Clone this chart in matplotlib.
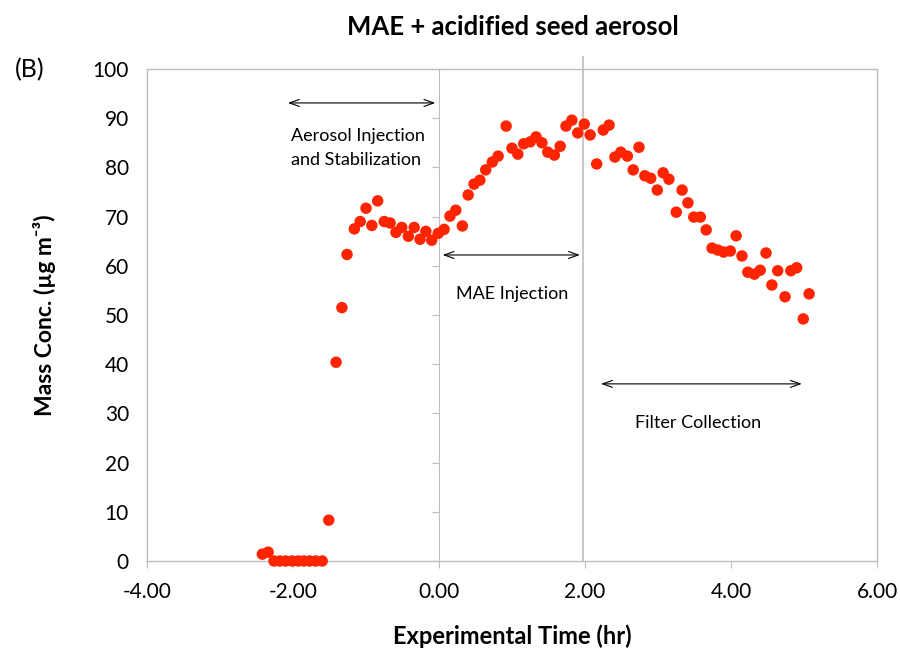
import matplotlib
matplotlib.use("Agg")
import matplotlib.pyplot as plt
from matplotlib.ticker import FixedLocator, FormatStrFormatter

plt.rcParams['font.family'] = ['Lato', 'DejaVu Sans']

time_hr = [-2.42, -2.34, -2.26, -2.18, -2.10, -2.01, -1.93, -1.85, -1.77, -1.69, -1.60,
           -1.51, -1.41, -1.33, -1.26, -1.16, -1.08, -1.00, -0.92, -0.84, -0.75, -0.67,
           -0.59, -0.51, -0.42, -0.34, -0.26, -0.18, -0.10, -0.01, 0.07, 0.15, 0.23,
           0.32, 0.40, 0.48, 0.56, 0.64, 0.73, 0.81, 0.92, 1.00, 1.08, 1.16, 1.25,
           1.33, 1.41, 1.49, 1.58, 1.66, 1.74, 1.82, 1.90, 1.99, 2.07, 2.16, 2.25,
           2.33, 2.41, 2.49, 2.58, 2.66, 2.74, 2.82, 2.90, 2.99, 3.07, 3.15, 3.25,
           3.33, 3.41, 3.49, 3.58, 3.66, 3.74, 3.82, 3.90, 3.99, 4.07, 4.15, 4.23,
           4.32, 4.40, 4.48, 4.56, 4.64, 4.74, 4.82, 4.90, 4.99, 5.07]
mass_conc = [1.4, 1.8, 0.0, 0.0, 0.0, 0.0, 0.0, 0.0, 0.0, 0.0, 0.0,
             8.3, 40.4, 51.5, 62.3, 67.5, 69.0, 71.7, 68.2, 73.2, 69.0, 68.7,
             66.8, 67.8, 66.0, 67.8, 65.4, 67.0, 65.2, 66.6, 67.4, 70.1, 71.3,
             68.1, 74.4, 76.6, 77.4, 79.5, 81.1, 82.3, 88.4, 83.9, 82.7, 84.8, 85.2,
             86.2, 85.0, 83.1, 82.5, 84.3, 88.4, 89.6, 87.0, 88.8, 86.6, 80.7, 87.6,
             88.6, 82.1, 83.1, 82.3, 79.5, 84.1, 78.3, 77.8, 75.4, 78.9, 77.6, 70.9,
             75.4, 72.8, 69.9, 69.9, 67.3, 63.6, 63.2, 62.8, 63.0, 66.1, 62.0, 58.7,
             58.3, 59.1, 62.6, 56.1, 59.0, 53.7, 59.0, 59.6, 49.2, 54.3]

x_ticks = [-4, -2, 0, 2, 4, 6]
y_ticks = [0, 10, 20, 30, 40, 50, 60, 70, 80, 90, 100]
filter_start = 1.97

phases = [
    ("Aerosol Injection\nand Stabilization", -2.07, -0.05, 93.1, -2.03, 84.0, 'left'),
    ("MAE Injection", 0.05, 1.93, 62.2, 1.0, 54.3, 'center'),
    ("Filter Collection", 2.22, 4.97, 36.0, 3.55, 28.0, 'center'),
]

gray = '#BDBDBD'
fig = plt.figure(figsize=(9, 6.51), dpi=100)
ax = fig.add_axes([147/900, 1-561/651, (877-147)/900, (561-69)/651])

ax.scatter(time_hr, mass_conc, s=68, color='#FF2400', edgecolors='none', zorder=3, clip_on=False)

ax.set_xlim(-4, 6)
ax.set_ylim(0, 100)
ax.xaxis.set_major_locator(FixedLocator(x_ticks))
ax.yaxis.set_major_locator(FixedLocator(y_ticks))
ax.xaxis.set_major_formatter(FormatStrFormatter('%.2f'))
for sp in ax.spines.values():
    sp.set_color(gray)
    sp.set_linewidth(1.0)
ax.tick_params(axis='y', length=0, pad=13, labelsize=15, colors='black')
ax.tick_params(axis='x', length=5, direction='out', color=gray, pad=10, labelsize=15)

sec = ax.secondary_yaxis(0.4)
sec.yaxis.set_major_locator(FixedLocator(y_ticks))
sec.set_yticklabels([])
sec.spines['left'].set_color(gray)
sec.tick_params(axis='y', length=5, direction='out', color=gray)

ax.axvline(filter_start, ymin=0, ymax=1.025, color=gray, lw=1.2, clip_on=False, zorder=1)

for label, xa, xb, ya, xt, yt, ha in phases:
    ax.annotate('', xy=(xa, ya), xytext=(xb, ya),
                arrowprops=dict(arrowstyle='<->,head_length=0.7,head_width=0.25', lw=0.8, color='black',
                                shrinkA=0, shrinkB=0))
    ax.text(xt, yt, label, ha=ha, va='center', fontsize=13, linespacing=1.6)

ax.set_xlabel('Experimental Time (hr)', fontsize=17, fontweight='bold', labelpad=16)
ax.set_ylabel('Mass Conc. (µg m⁻³)', fontsize=16.5, fontweight='bold', labelpad=26)
fig.text(513/900, 1-27/651, 'MAE + acidified seed aerosol', ha='center', va='center',
         fontsize=18.5, fontweight='bold')
fig.text(30/900, 1-70/651, '(B)', ha='center', va='center', fontsize=18)

fig.savefig('out.png', dpi=100)
